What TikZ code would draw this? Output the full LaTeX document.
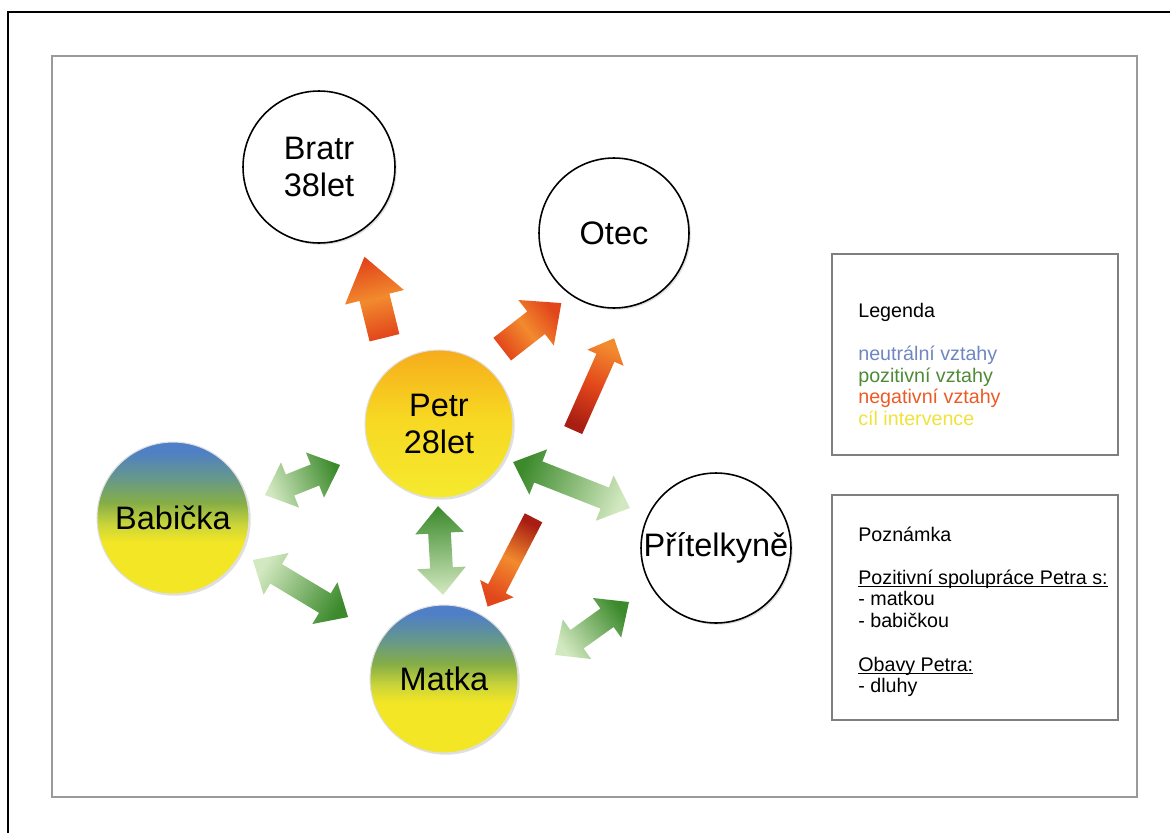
\documentclass[tikz,border=0pt]{standalone}
\usepackage{fontspec}
\setmainfont{Liberation Sans}
\usetikzlibrary{shapes.arrows,shadows}

\definecolor{framegray}{HTML}{9A9A9A}
\definecolor{boxgray}{HTML}{7F7F7F}
\definecolor{petrtop}{HTML}{F6AC1C}
\definecolor{petrmid}{HTML}{F7D822}
\definecolor{petrbot}{HTML}{F5EA2E}
\definecolor{famblue}{HTML}{4F7FC6}
\definecolor{famteal}{HTML}{66988A}
\definecolor{famgreen}{HTML}{86AE46}
\definecolor{famlime}{HTML}{C9D43A}
\definecolor{famyellow}{HTML}{F3E624}
\definecolor{negdark}{HTML}{A81E12}
\definecolor{negred}{HTML}{E2461B}
\definecolor{negorange}{HTML}{F28A2E}
\definecolor{posdark}{HTML}{3C8A2C}
\definecolor{poslight}{HTML}{D2E8C0}
\definecolor{neutralc}{HTML}{6F86C0}
\definecolor{positivec}{HTML}{4E8A36}
\definecolor{negativec}{HTML}{EC5A26}
\definecolor{targetc}{HTML}{EFE23C}

\pgfdeclareverticalshading{petrshade}{100bp}{color(0bp)=(petrbot); color(25bp)=(petrbot); color(52bp)=(petrmid); color(75bp)=(petrtop); color(100bp)=(petrtop)}
\pgfdeclareverticalshading{familyshade}{100bp}{color(0bp)=(famyellow); color(25bp)=(famyellow); color(42bp)=(famyellow); color(48bp)=(famlime); color(55bp)=(famgreen); color(63bp)=(famteal); color(72bp)=(famblue); color(100bp)=(famblue)}

\newsavebox{\undlbox}
\newcommand{\undl}[1]{\sbox{\undlbox}{#1}\rlap{\rule[-1.7pt]{\wd\undlbox}{0.55pt}}\usebox{\undlbox}}

\begin{document}
\begin{tikzpicture}[
    x=0.02cm, y=-0.02cm,
    person/.style={
        circle,
        inner sep=0pt,
        align=center,
        font=\fontsize{18.5}{21}\selectfont,
        drop shadow={opacity=0.25, shadow xshift=1pt, shadow yshift=-1pt}
    },
    plainperson/.style={person, draw=black, line width=0.9pt, fill=white},
    targetperson/.style={person, shading=petrshade, draw=white!75!gray, line width=0.6pt},
    familyperson/.style={person, shading=familyshade, draw=white!75!gray, line width=0.6pt},
    negarrow/.style={
        single arrow, inner xsep=0pt, sloped, allow upside down,
        left color=negred, right color=negred, middle color=negorange
    },
    posarrow/.style={
        double arrow, inner xsep=0pt, inner ysep=0.22cm, sloped, allow upside down,
        double arrow head extend=0.26cm, double arrow tip angle=84,
        left color=poslight, right color=posdark
    },
    infobox/.style={draw=boxgray, line width=0.7pt, minimum width=5.72cm},
    infotext/.style={anchor=base west, inner sep=0pt, font=\fontsize{11.2}{12.3}\selectfont}
]
\useasboundingbox (0,0) rectangle (1170,832);
\clip (0,0) rectangle (1170,832);

% frames
\draw[black, line width=1.1pt] (8,12) rectangle (1190,850);
\draw[framegray, line width=1.1pt] (52,56) rectangle (1137,797);

% people
\node[plainperson, minimum size=3.04cm] (bratr) at (319,167) {Bratr\\38let};
\node[plainperson, minimum size=3cm] (otec) at (614,233) {Otec};
\node[targetperson, minimum size=2.96cm] (petr) at (439,424) {Petr\\28let};
\node[familyperson, minimum size=3.04cm] (babicka) at (173,518) {Babička};
\node[familyperson, minimum size=2.96cm] (matka) at (444,679) {Matka};
\node[plainperson, minimum size=3cm] (pritelkyne) at (716,548) {Přítelkyně};

% negative relations
\coordinate (bratrtail) at (387,348);
\coordinate (bratrtip) at (367,267);
\coordinate (otectail) at (496,354);
\coordinate (otectip) at (555,308);
\coordinate (otec2tail) at (571,435);
\coordinate (otec2tip) at (612,343);
\coordinate (matkatail) at (536,513);
\coordinate (matkatip) at (490,602);

\path (bratrtail) -- node[negarrow, minimum height=1.67cm, inner ysep=0.3cm,
    single arrow head extend=0.3cm, single arrow tip angle=72, shading angle=194] (negbratr) {} (bratrtip);
\path (otectail) -- node[negarrow, minimum height=1.5cm, inner ysep=0.28cm,
    single arrow head extend=0.29cm, single arrow tip angle=84, shading angle=128] (negotec) {} (otectip);
\path (otec2tail) -- node[negarrow, minimum height=2.01cm, inner ysep=0.19cm,
    single arrow head extend=0.2cm, single arrow tip angle=86,
    left color=negdark, right color=negorange, middle color=negred, shading angle=156] (negotecb) {} (otec2tip);
\path (matkatail) -- node[negarrow, minimum height=2cm, inner ysep=0.19cm,
    single arrow head extend=0.18cm, single arrow tip angle=86,
    left color=negdark, right color=negred, middle color=negorange, shading angle=-27] (negmatka) {} (matkatip);

% positive relations
\coordinate (pbabA) at (265,495);
\coordinate (pbabB) at (340,465);
\coordinate (bmatA) at (253,560);
\coordinate (bmatB) at (348,617);
\coordinate (pmatA) at (443,595);
\coordinate (pmatB) at (438,506);
\coordinate (ppriA) at (630,508);
\coordinate (ppriB) at (513,462);
\coordinate (mpriA) at (555,655);
\coordinate (mpriB) at (629,602);

\path (pbabA) -- node[posarrow, minimum height=1.62cm, shading angle=112] (posbabicka) {} (pbabB);
\path (bmatA) -- node[posarrow, minimum height=2.22cm, shading angle=59] (posbabmatka) {} (bmatB);
\path (pmatA) -- node[posarrow, minimum height=1.78cm, shading angle=183] (posmatka) {} (pmatB);
\path (ppriA) -- node[posarrow, minimum height=2.51cm, shading angle=248] (pospritelkyne) {} (ppriB);
\path (mpriA) -- node[posarrow, minimum height=1.82cm, shading angle=126] (posmatpri) {} (mpriB);

% legend
\node[infobox, minimum height=4.02cm] (legendbox) at (975,354.5) {};
\node[infotext] (legtitle) at (858,317) {Legenda};
\node[infotext, text=neutralc] (legneutral) at (858,360) {neutrální vztahy};
\node[infotext, text=positivec] (legpositive) at (858,382) {pozitivní vztahy};
\node[infotext, text=negativec] (legnegative) at (858,403) {negativní vztahy};
\node[infotext, text=targetc] (legtarget) at (858,425) {cíl intervence};

% note
\node[infobox, minimum height=4.5cm] (notebox) at (975,607.5) {};
\node[infotext] (notetitle) at (858,541) {Poznámka};
\node[infotext] (notecoop) at (858,584) {\undl{Pozitivní spolupráce Petra s:}};
\node[infotext] (notemother) at (858,605) {- matkou};
\node[infotext] (notegran) at (858,627) {- babičkou};
\node[infotext] (noteworry) at (858,671) {\undl{Obavy Petra:}};
\node[infotext] (notedebt) at (858,692) {- dluhy};

\end{tikzpicture}
\end{document}
